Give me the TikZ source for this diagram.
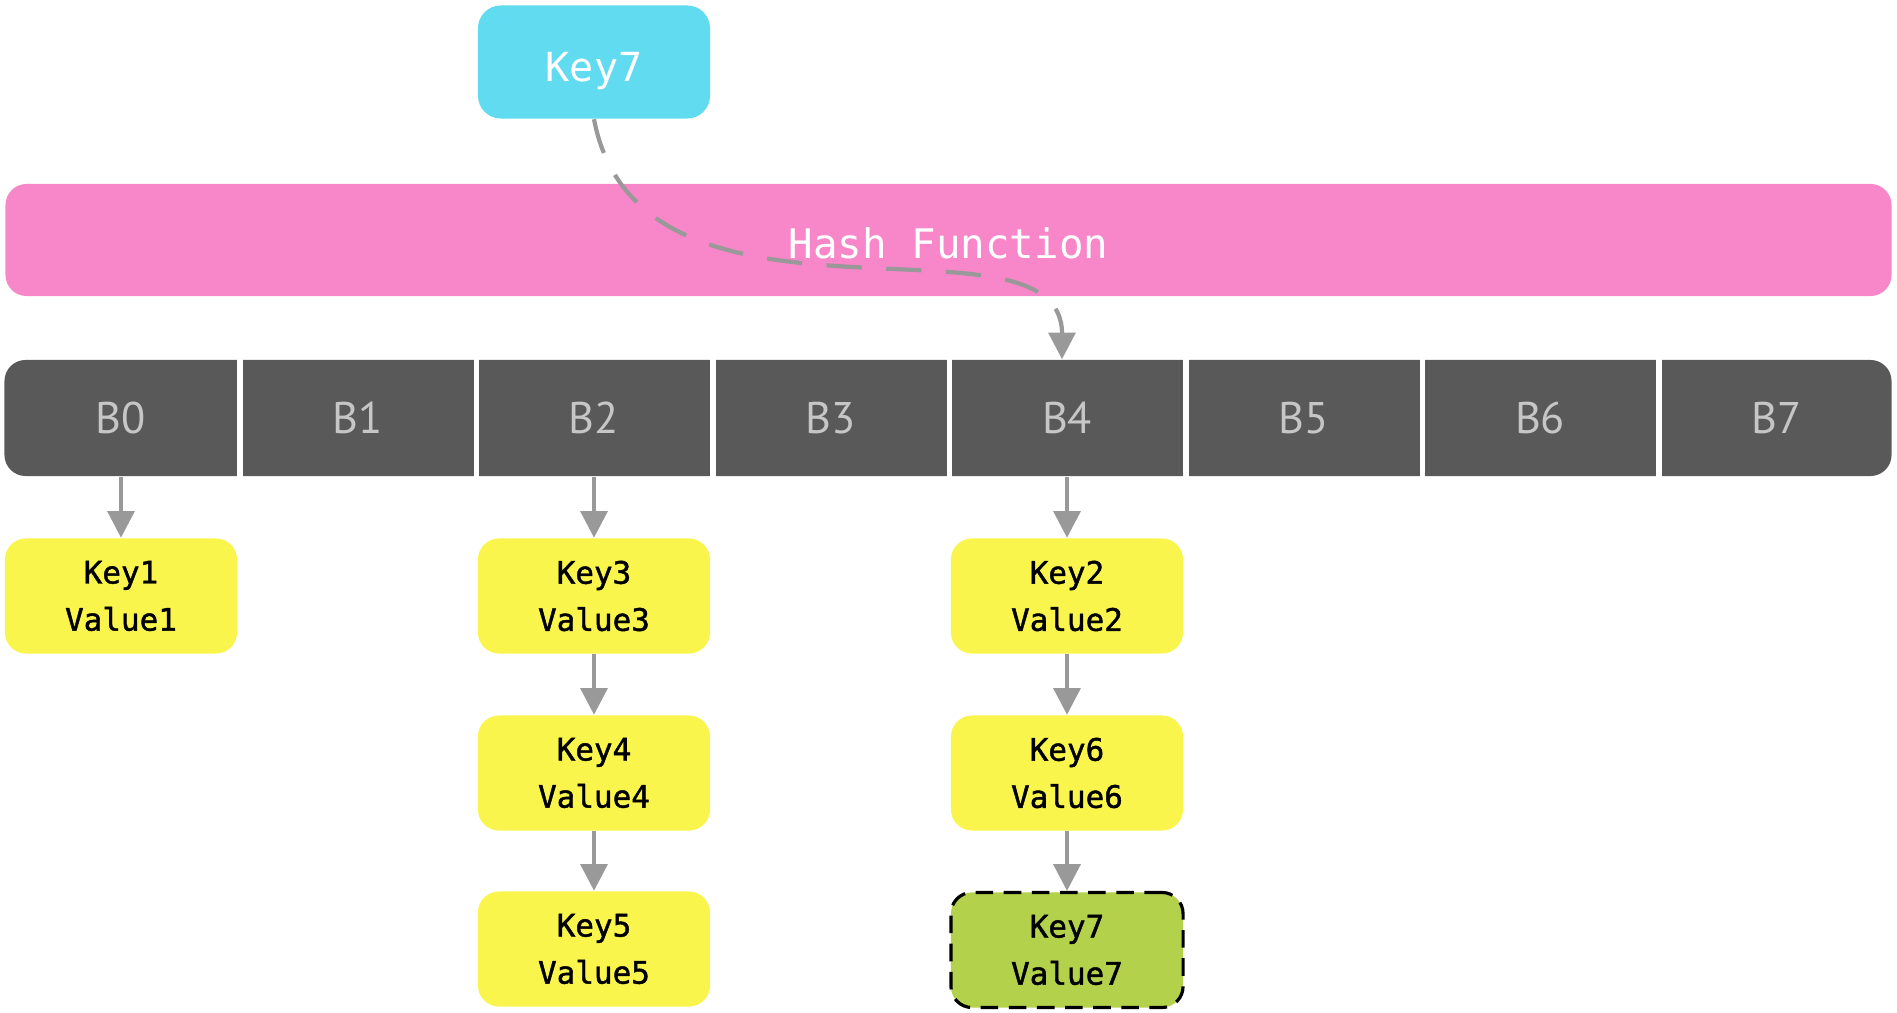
\documentclass[tikz,border=0pt]{standalone}
\usepackage{fontspec}
\usepackage{tikz}
\usetikzlibrary{arrows.meta,positioning}
\newfontfamily\kvmono{DejaVu Sans Mono}
\newfontfamily\kvmonobold[FakeBold=1.4]{DejaVu Sans Mono}
\newfontfamily\bucketsans{PT Sans}
\definecolor{ckey}{RGB}{96,219,240}
\definecolor{chash}{RGB}{247,135,200}
\definecolor{cbucket}{RGB}{89,89,89}
\definecolor{cpair}{RGB}{250,245,77}
\definecolor{cnew}{RGB}{179,209,75}
\definecolor{clink}{RGB}{153,153,153}
\tikzset{
  % key/value pairs hanging off the buckets
  pair/.style={rectangle,rounded corners=6pt,fill=cpair,draw=none,
    minimum width=2.32cm,minimum height=1.15cm,align=center,inner sep=0pt,
    font=\kvmonobold\fontsize{8.8}{13.4}\selectfont},
  newpair/.style={pair,fill=cnew,draw=black,line width=0.9pt,
    dash pattern=on 5pt off 3pt},
  keybox/.style={rectangle,rounded corners=6.5pt,fill=ckey,draw=none,
    minimum width=2.32cm,minimum height=1.13cm,text=white,inner sep=0pt,
    text height=11pt,text depth=0pt,font=\kvmono\fontsize{11.4}{13}\selectfont},
  hashbar/.style={rectangle,rounded corners=6pt,fill=chash,draw=none,
    minimum width=18.85cm,minimum height=1.12cm,text=white,inner sep=0pt,
    text height=10.5pt,text depth=0pt,font=\kvmono\fontsize{11.6}{13}\selectfont},
  bucketrow/.style={rectangle,rounded corners=6pt,fill=cbucket,draw=none,
    minimum width=18.86cm,minimum height=1.16cm,inner sep=0pt},
  bucket/.style={rectangle,draw=none,minimum width=2.365cm,
    minimum height=1.16cm,inner sep=0pt,text=gray!45,
    font=\bucketsans\fontsize{12.6}{15}\selectfont},
  sep/.style={white,line width=1.6pt},
  link/.style={clink,line width=1.2pt,-{Triangle[width=7.6pt,length=7.6pt]}},
  hashlink/.style={link,dash pattern=on 10pt off 7pt}
}

\begin{document}
\begin{tikzpicture}[x=0.01cm,y=-0.01cm]
\useasboundingbox (0,0) rectangle (1897,1013);
% ---------------- key and hash function ----------------
\node[keybox] (key7) at (594,62) {Key7};
\node[hashbar] (hash) at (948.5,240) {Hash Function};
% ---------------- buckets ----------------
\node[bucketrow] (row) at (948,418) {};
\foreach \i in {0,...,7}
  \node[bucket] (b\i) at ({121+236.5*\i},418) {B\i};
\foreach \i in {0,...,6}
  \draw[sep] (b\i.north east) -- (b\i.south east);
% ---------------- chains ----------------
\node[pair] (kv1) at (121,596) {Key1\\Value1};
\node[pair] (kv3) at (594,596) {Key3\\Value3};
\node[pair] (kv4) at (594,773) {Key4\\Value4};
\node[pair] (kv5) at (594,949) {Key5\\Value5};
\node[pair] (kv2) at (1067,596) {Key2\\Value2};
\node[pair] (kv6) at (1067,773) {Key6\\Value6};
\node[newpair] (kv7) at (1067,950) {Key7\\Value7};
\draw[link] (b0.south) -- (kv1.north);
\draw[link] (b2.south) -- (kv3.north);
\draw[link] (kv3.south) -- (kv4.north);
\draw[link] (kv4.south) -- (kv5.north);
\draw[link] (b4.south) -- (kv2.north);
\draw[link] (kv2.south) -- (kv6.north);
\draw[link] (kv6.south) -- (kv7.north);
% the new key goes through the hash to B4
\draw[hashlink] (key7.south) .. controls (640,360) and (1062,200) .. ([xshift=-0.05cm]b4.north);
\end{tikzpicture}
\end{document}
